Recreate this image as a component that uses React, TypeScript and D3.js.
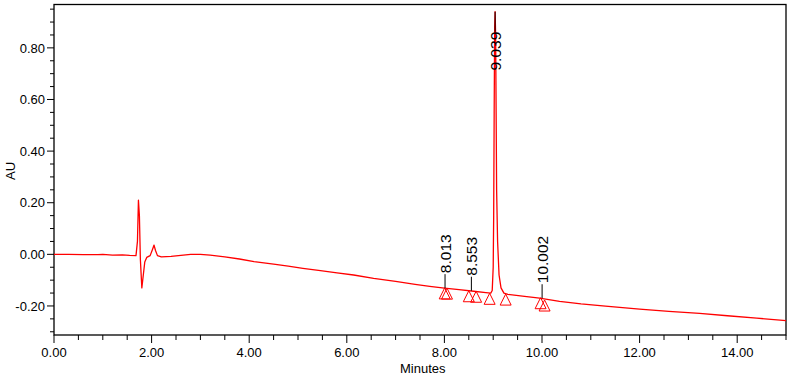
import React, { useEffect, useRef } from "react";
import * as d3 from "d3";

// chromatogram trace (minutes, AU)
const times = [
  0.0, 0.3, 0.6, 0.9, 1.0, 1.2, 1.4, 1.55, 1.68,
  1.71, 1.73, 1.75, 1.77, 1.8, 1.83, 1.86, 1.9, 1.97,
  2.02, 2.05, 2.08, 2.12, 2.2, 2.4, 2.6, 2.8, 3.0, 3.2,
  3.5, 3.8, 4.1, 4.5, 4.8, 5.1, 5.46, 5.8, 6.14, 6.55,
  7.0, 7.4, 7.7, 8.0, 8.3, 8.6, 8.85, 8.95, 8.98,
  9.0, 9.01, 9.02, 9.03, 9.039, 9.05, 9.06, 9.07, 9.09,
  9.12, 9.16, 9.22, 9.3, 9.6, 9.95, 10.36, 10.8, 11.3,
  12.0, 12.6, 13.23, 13.8, 14.4, 15.0,
];
const absorbance = [
  0.0, 0.0, -0.001, -0.001, 0.0, -0.003, -0.002, -0.004, -0.005,
  0.05, 0.21, 0.15, -0.02, -0.13, -0.08, -0.03, -0.012, -0.005,
  0.02, 0.036, 0.015, -0.005, -0.01, -0.008, -0.004, 0.0, 0.0, -0.003,
  -0.01, -0.018, -0.028, -0.038, -0.046, -0.054, -0.063, -0.072, -0.08, -0.093,
  -0.105, -0.116, -0.124, -0.131, -0.137, -0.143, -0.148, -0.15, -0.14,
  -0.05, 0.15, 0.55, 0.88, 0.94, 0.85, 0.55, 0.25, 0.05,
  -0.08, -0.13, -0.15, -0.155, -0.162, -0.17, -0.182, -0.192, -0.201,
  -0.212, -0.221, -0.229, -0.238, -0.247, -0.257,
];

// retention time labels
const peakTimes = [8.013, 8.553, 9.039, 10.002];
const peakLabels = ["8.013", "8.553", "9.039", "10.002"];
const peakHeights = [-0.131, -0.141, 0.94, -0.17];

// integration markers (start / end triangles)
const markerTimes = [8.006, 8.053, 8.5, 8.65, 8.927, 9.255, 9.971, 10.053];
const markerValues = [-0.13, -0.131, -0.141, -0.143, -0.151, -0.154, -0.168, -0.177];

const xTicks = [0, 2, 4, 6, 8, 10, 12, 14];
const yTicks = [-0.2, 0, 0.2, 0.4, 0.6, 0.8];

const width = 791;
const height = 377;
const margin = { top: 4.5, right: 5, bottom: 42, left: 54 };
const axisFont = "'Liberation Sans Narrow', 'Arial Narrow', 'Liberation Sans', Arial, sans-serif";

export default function App() {
  const ref = useRef<SVGSVGElement>(null);

  useEffect(() => {
    const svg = d3.select(ref.current);
    svg.selectAll("*").remove();

    const x = d3.scaleLinear().domain([0, 15]).range([margin.left, width - margin.right]);
    const y = d3.scaleLinear().domain([-0.3125, 0.968]).range([height - margin.bottom, margin.top]);

    const x0 = margin.left;
    const x1 = width - margin.right;
    const y0 = height - margin.bottom;
    const y1 = margin.top;

    // frame
    svg.append("rect")
      .attr("x", x0).attr("y", y1)
      .attr("width", x1 - x0).attr("height", y0 - y1)
      .attr("fill", "none").attr("stroke", "#000").attr("stroke-width", 1.3);

    // x ticks: major every 2, minor every 0.5
    const xMinor = d3.range(0, 15.01, 0.5);
    svg.append("g").selectAll("line").data(xMinor).join("line")
      .attr("x1", (d) => x(d)).attr("x2", (d) => x(d))
      .attr("y1", y0).attr("y2", (d) => (d % 2 === 0 ? y0 + 8 : y0 + 5))
      .attr("stroke", "#000").attr("stroke-width", 1);

    svg.append("g").selectAll("text").data(xTicks).join("text")
      .attr("x", (d) => x(d)).attr("y", y0 + 22)
      .attr("text-anchor", "middle")
      .attr("font-family", axisFont).attr("font-size", 13)
      .text((d) => d.toFixed(2));

    // y ticks: major every 0.2, minor every 0.05
    const yMinor = d3.range(-0.3, 0.96, 0.05).map((d) => Math.round(d * 100) / 100);
    svg.append("g").selectAll("line").data(yMinor).join("line")
      .attr("y1", (d) => y(d)).attr("y2", (d) => y(d))
      .attr("x1", (d) => (Math.abs((d * 100) % 20) < 0.01 ? x0 - 7 : x0 - 4)).attr("x2", x0)
      .attr("stroke", "#000").attr("stroke-width", 1);

    svg.append("g").selectAll("text").data(yTicks).join("text")
      .attr("x", x0 - 9).attr("y", (d) => y(d))
      .attr("dy", "0.36em")
      .attr("text-anchor", "end")
      .attr("font-family", axisFont).attr("font-size", 13)
      .text((d) => d.toFixed(2));

    // axis titles
    svg.append("text")
      .attr("x", 400).attr("y", 373)
      .attr("font-family", axisFont).attr("font-size", 13)
      .text("Minutes");
    svg.append("text")
      .attr("transform", "translate(15,171) rotate(-90)")
      .attr("text-anchor", "middle")
      .attr("font-family", axisFont).attr("font-size", 13)
      .text("AU");

    // trace
    const pts = times.map((t, i) => [t, absorbance[i]] as [number, number]);
    const line = d3.line<[number, number]>().x((d) => x(d[0])).y((d) => y(d[1]));
    svg.append("path")
      .datum(pts)
      .attr("d", line)
      .attr("fill", "none")
      .attr("stroke", "#ff0000")
      .attr("stroke-width", 1.3)
      .attr("stroke-linejoin", "round");

    // triangles
    const tri = 5.5;
    svg.append("g").selectAll("path").data(markerTimes).join("path")
      .attr("d", (d, i) => {
        const px = x(d);
        const py = y(markerValues[i]);
        return `M${px},${py}L${px - tri},${py + 11}L${px + tri},${py + 11}Z`;
      })
      .attr("fill", "none").attr("stroke", "#ff0000").attr("stroke-width", 1);

    // retention time labels
    peakTimes.forEach((t, i) => {
      const px = x(t);
      const py = y(peakHeights[i]);
      const flip = py < 80; // no room above, put it under the apex
      const ly = flip ? py + 20 : py - 14;
      svg.append("line")
        .attr("x1", px).attr("x2", px)
        .attr("y1", py).attr("y2", ly)
        .attr("stroke", "#000").attr("stroke-width", 1);
      svg.append("text")
        .attr("transform", `translate(${px + 5.5},${flip ? ly : ly - 1}) rotate(-90)`)
        .attr("text-anchor", flip ? "end" : "start")
        .attr("font-family", "'Liberation Sans', Arial, sans-serif")
        .attr("font-size", 15.5)
        .text(peakLabels[i]);
    });
  }, []);

  return (
    <svg
      ref={ref}
      width={width}
      height={height}
      style={{ position: "absolute", left: 0, top: 0, background: "#fff" }}
    />
  );
}
